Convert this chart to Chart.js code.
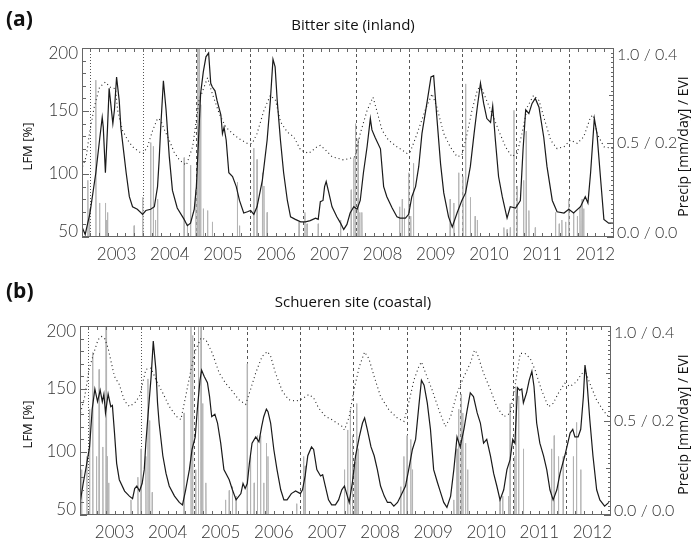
<!DOCTYPE html>
<html><head><meta charset="utf-8">
<script src="https://cdn.jsdelivr.net/npm/chart.js@4.4.0/dist/chart.umd.min.js"></script>
<style>
html,body{margin:0;padding:0;background:#fff;}
#wrap{position:relative;width:691px;height:541px;}
canvas{position:absolute;left:0;}
</style></head><body>
<div id="wrap">
<canvas id="ca" width="691" height="270" style="top:0"></canvas>
<canvas id="cb" width="691" height="271" style="top:270px"></canvas>
</div>
<script>
// ---------- data (decimal year, value) ----------
const xMin = 2002.85, xMax = 2012.85;
const yearMarks = [2003,2004,2005,2006,2007,2008,2009,2010,2011,2012];
const yearLabels = ['2003','2004','2005','2006','2007','2008','2009','2010','2011','2012'];
const lfmTicks = [50,100,150,200];
const rightTicks = [0,0.5,1.0];
const rightLabels = ['0.0 / 0.0','0.5 / 0.2','1.0 / 0.4'];

const lfmA = [[2002.85,58],[2002.91,52],[2003.00,69],[2003.11,101],[2003.18,127],[2003.23,145],[2003.25,137],[2003.29,101],[2003.33,137],[2003.36,168],[2003.43,140],[2003.46,151],[2003.50,177],[2003.55,158],[2003.58,137],[2003.63,119],[2003.68,101],[2003.74,82],[2003.80,74],[2003.89,72],[2003.99,68],[2004.05,71],[2004.14,72],[2004.21,74],[2004.27,90],[2004.30,111],[2004.33,137],[2004.38,174],[2004.43,151],[2004.49,114],[2004.55,87],[2004.64,73],[2004.77,64],[2004.83,59],[2004.89,61],[2004.96,72],[2005.00,90],[2005.04,127],[2005.08,164],[2005.13,181],[2005.18,193],[2005.23,196],[2005.27,172],[2005.30,169],[2005.35,166],[2005.39,158],[2005.46,147],[2005.49,132],[2005.52,137],[2005.56,127],[2005.61,101],[2005.68,98],[2005.75,90],[2005.81,79],[2005.89,69],[2005.96,70],[2006.02,71],[2006.08,68],[2006.14,74],[2006.24,95],[2006.33,127],[2006.39,158],[2006.44,191],[2006.48,185],[2006.52,158],[2006.58,127],[2006.64,101],[2006.71,79],[2006.77,66],[2006.86,64],[2006.96,62],[2007.05,62],[2007.14,63],[2007.24,65],[2007.29,64],[2007.33,78],[2007.38,79],[2007.41,90],[2007.44,94],[2007.49,85],[2007.55,74],[2007.64,66],[2007.71,61],[2007.77,56],[2007.83,60],[2007.89,69],[2007.96,74],[2008.02,72],[2008.08,79],[2008.14,101],[2008.21,122],[2008.27,144],[2008.30,135],[2008.36,129],[2008.46,120],[2008.52,90],[2008.58,82],[2008.68,73],[2008.77,66],[2008.83,65],[2008.93,65],[2008.99,68],[2009.05,82],[2009.12,90],[2009.18,106],[2009.24,132],[2009.34,158],[2009.41,177],[2009.46,178],[2009.52,145],[2009.59,108],[2009.65,85],[2009.74,66],[2009.81,58],[2009.90,69],[2009.99,79],[2010.06,85],[2010.15,106],[2010.22,132],[2010.28,153],[2010.34,172],[2010.40,156],[2010.46,144],[2010.53,141],[2010.57,154],[2010.62,127],[2010.68,98],[2010.75,82],[2010.84,65],[2010.90,74],[2011.00,73],[2011.09,79],[2011.14,119],[2011.19,151],[2011.25,148],[2011.31,156],[2011.37,160],[2011.44,153],[2011.53,129],[2011.59,106],[2011.69,79],[2011.78,70],[2011.91,69],[2012.00,72],[2012.09,69],[2012.22,74],[2012.31,82],[2012.36,77],[2012.41,101],[2012.48,144],[2012.53,132],[2012.60,95],[2012.66,64],[2012.75,61],[2012.83,61]];

const eviA = [[2002.86,.149],[2002.93,.170],[2002.99,.219],[2003.08,.275],[2003.18,.317],[2003.29,.328],[2003.39,.316],[2003.48,.314],[2003.52,.268],[2003.61,.226],[2003.71,.205],[2003.80,.191],[2003.93,.180],[2004.00,.177],[2004.08,.191],[2004.18,.226],[2004.27,.251],[2004.33,.247],[2004.39,.229],[2004.49,.205],[2004.58,.180],[2004.68,.163],[2004.81,.152],[2004.93,.191],[2005.05,.289],[2005.21,.337],[2005.30,.303],[2005.43,.261],[2005.55,.233],[2005.68,.219],[2005.80,.208],[2005.96,.198],[2006.05,.198],[2006.14,.219],[2006.27,.268],[2006.39,.300],[2006.49,.289],[2006.58,.244],[2006.71,.222],[2006.83,.212],[2006.96,.184],[2007.11,.177],[2007.27,.191],[2007.33,.194],[2007.43,.184],[2007.55,.170],[2007.77,.163],[2007.99,.170],[2008.08,.219],[2008.21,.268],[2008.32,.296],[2008.39,.268],[2008.49,.226],[2008.61,.205],[2008.77,.191],[2008.96,.177],[2009.02,.180],[2009.15,.219],[2009.30,.268],[2009.43,.303],[2009.52,.275],[2009.65,.219],[2009.77,.191],[2009.90,.170],[2009.99,.173],[2010.09,.219],[2010.18,.268],[2010.28,.310],[2010.34,.321],[2010.43,.296],[2010.56,.261],[2010.68,.226],[2010.81,.191],[2010.93,.170],[2011.03,.177],[2011.12,.219],[2011.22,.275],[2011.34,.300],[2011.44,.289],[2011.53,.254],[2011.66,.205],[2011.78,.187],[2011.91,.191],[2012.03,.205],[2012.16,.198],[2012.28,.212],[2012.41,.254],[2012.46,.258],[2012.53,.219],[2012.66,.191],[2012.83,.187]];

const precipA = [[2002.96,.30],[2002.99,.15],[2003.11,.83],[2003.18,.18],[2003.29,.18],[2003.31,.09],[2003.33,.13],[2003.83,.06],[2003.99,.21],[2004.14,.50],[2004.19,.48],[2004.23,.09],[2004.27,.20],[2004.77,.42],[2004.83,.07],[2004.89,.38],[2004.99,.25],[2005.02,1.0],[2005.05,1.0],[2005.08,.70],[2005.13,.15],[2005.21,.14],[2005.30,.08],[2005.77,.29],[2005.81,.06],[2006.08,.47],[2006.14,.41],[2006.24,.34],[2006.27,.27],[2006.33,.13],[2006.93,.08],[2007.04,.13],[2007.08,.07],[2007.29,.07],[2007.71,.09],[2007.91,.25],[2007.96,.42],[2007.99,.60],[2008.04,.52],[2008.07,.13],[2008.11,.13],[2008.82,.16],[2008.87,.20],[2008.91,.15],[2008.99,.34],[2009.03,.11],[2009.08,.39],[2009.77,.20],[2009.84,.18],[2009.93,.34],[2010.01,.32],[2010.06,.81],[2010.15,.21],[2010.24,.11],[2010.28,.09],[2010.78,.05],[2010.84,.04],[2010.90,.05],[2010.97,.67],[2011.03,.27],[2011.15,.30],[2011.20,.56],[2011.25,.14],[2011.37,.05],[2011.75,.13],[2011.82,.07],[2011.87,.09],[2011.94,.08],[2012.00,.20],[2012.09,.13],[2012.16,.11],[2012.21,.16],[2012.25,.20],[2012.28,.15]];

const lfmB = [[2002.86,62],[2002.91,75],[2002.97,89],[2003.03,104],[2003.08,134],[2003.13,150],[2003.18,140],[2003.23,149],[2003.27,140],[2003.30,146],[2003.33,131],[2003.38,146],[2003.43,136],[2003.46,137],[2003.50,115],[2003.54,91],[2003.59,78],[2003.69,69],[2003.78,65],[2003.84,63],[2003.88,71],[2003.92,73],[2003.97,69],[2004.02,75],[2004.06,86],[2004.09,107],[2004.14,134],[2004.19,160],[2004.23,188],[2004.28,165],[2004.31,139],[2004.34,123],[2004.41,97],[2004.47,83],[2004.53,73],[2004.63,65],[2004.72,60],[2004.78,58],[2004.84,70],[2004.91,86],[2004.96,102],[2005.02,112],[2005.06,134],[2005.11,157],[2005.14,165],[2005.19,160],[2005.25,155],[2005.29,144],[2005.33,128],[2005.39,130],[2005.44,123],[2005.50,107],[2005.56,86],[2005.66,78],[2005.72,70],[2005.79,62],[2005.88,67],[2005.92,75],[2005.96,71],[2006.00,75],[2006.04,91],[2006.09,107],[2006.16,112],[2006.22,108],[2006.27,120],[2006.31,128],[2006.36,134],[2006.39,132],[2006.44,123],[2006.50,102],[2006.56,86],[2006.63,70],[2006.69,62],[2006.75,62],[2006.83,67],[2006.91,69],[2007.00,67],[2007.04,70],[2007.09,81],[2007.14,97],[2007.21,104],[2007.25,102],[2007.31,86],[2007.38,81],[2007.42,82],[2007.47,73],[2007.53,62],[2007.59,58],[2007.66,58],[2007.72,62],[2007.78,70],[2007.83,73],[2007.92,60],[2007.98,76],[2008.04,97],[2008.11,112],[2008.17,123],[2008.21,127],[2008.26,118],[2008.33,104],[2008.39,97],[2008.45,86],[2008.51,73],[2008.58,65],[2008.64,60],[2008.70,60],[2008.76,57],[2008.83,60],[2008.89,65],[2008.98,73],[2009.04,86],[2009.11,102],[2009.17,110],[2009.23,136],[2009.28,157],[2009.33,153],[2009.39,139],[2009.45,118],[2009.51,86],[2009.58,76],[2009.64,68],[2009.70,60],[2009.76,56],[2009.83,65],[2009.89,86],[2009.95,112],[2010.01,104],[2010.08,118],[2010.14,133],[2010.20,147],[2010.26,144],[2010.33,131],[2010.39,123],[2010.45,107],[2010.51,110],[2010.58,97],[2010.64,83],[2010.70,73],[2010.76,62],[2010.83,70],[2010.89,86],[2010.95,94],[2011.00,110],[2011.04,107],[2011.09,151],[2011.13,149],[2011.17,150],[2011.20,139],[2011.26,147],[2011.31,157],[2011.36,164],[2011.40,152],[2011.45,123],[2011.51,107],[2011.58,97],[2011.64,86],[2011.70,70],[2011.76,62],[2011.83,70],[2011.89,83],[2011.98,97],[2012.08,115],[2012.13,118],[2012.17,112],[2012.23,112],[2012.28,118],[2012.33,144],[2012.36,169],[2012.39,160],[2012.45,126],[2012.51,97],[2012.58,70],[2012.64,62],[2012.73,57],[2012.81,60]];

const eviB = [[2002.86,.216],[2002.94,.251],[2003.02,.308],[2003.11,.343],[2003.19,.371],[2003.25,.378],[2003.31,.375],[2003.38,.353],[2003.44,.322],[2003.50,.293],[2003.59,.276],[2003.69,.241],[2003.78,.230],[2003.88,.237],[2003.97,.251],[2004.03,.279],[2004.09,.308],[2004.19,.311],[2004.28,.286],[2004.41,.258],[2004.53,.230],[2004.66,.209],[2004.75,.202],[2004.84,.251],[2004.94,.308],[2005.03,.350],[2005.13,.375],[2005.22,.371],[2005.34,.343],[2005.47,.301],[2005.59,.279],[2005.72,.262],[2005.84,.244],[2005.97,.234],[2006.06,.265],[2006.16,.301],[2006.28,.336],[2006.38,.346],[2006.44,.336],[2006.53,.301],[2006.66,.262],[2006.78,.244],[2006.91,.241],[2007.00,.244],[2007.06,.248],[2007.16,.255],[2007.25,.248],[2007.34,.227],[2007.47,.209],[2007.59,.202],[2007.78,.188],[2007.83,.180],[2007.92,.208],[2008.01,.265],[2008.11,.314],[2008.21,.345],[2008.29,.331],[2008.39,.293],[2008.51,.251],[2008.67,.222],[2008.83,.205],[2008.95,.198],[2009.04,.237],[2009.14,.286],[2009.23,.314],[2009.28,.324],[2009.36,.300],[2009.48,.265],[2009.61,.222],[2009.73,.187],[2009.83,.208],[2009.95,.258],[2010.08,.293],[2010.20,.321],[2010.28,.349],[2010.33,.342],[2010.45,.300],[2010.58,.265],[2010.70,.229],[2010.83,.208],[2010.95,.215],[2011.04,.272],[2011.14,.342],[2011.23,.342],[2011.33,.331],[2011.42,.307],[2011.54,.265],[2011.67,.229],[2011.76,.236],[2011.86,.258],[2011.98,.279],[2012.08,.272],[2012.20,.282],[2012.28,.296],[2012.36,.307],[2012.45,.279],[2012.58,.243],[2012.70,.222],[2012.82,.205]];

const precipB = [[2002.88,.24],[2002.98,.31],[2003.03,.56],[2003.09,.86],[2003.16,.31],[2003.21,.77],[2003.28,.36],[2003.34,1.0],[2003.36,.31],[2003.39,.17],[2003.81,.08],[2003.94,.20],[2004.00,.35],[2004.09,.31],[2004.13,.72],[2004.16,.50],[2004.21,.12],[2004.81,.54],[2004.94,1.0],[2004.97,.95],[2005.03,.24],[2005.08,1.0],[2005.13,1.0],[2005.16,.59],[2005.22,.17],[2005.59,.08],[2005.66,.13],[2005.72,.15],[2005.79,.10],[2006.00,.80],[2006.06,.31],[2006.13,.17],[2006.19,.42],[2006.25,.42],[2006.31,.17],[2006.36,.38],[2006.39,.31],[2006.93,.06],[2007.06,.31],[2007.09,.26],[2007.83,.24],[2007.89,.45],[2007.94,.56],[2007.98,.42],[2008.03,.28],[2008.06,.59],[2008.09,.35],[2008.89,.15],[2008.95,.31],[2009.01,.42],[2009.08,.40],[2009.11,.24],[2009.89,.08],[2009.95,.35],[2009.98,.56],[2010.03,.64],[2010.06,.54],[2010.11,.38],[2010.15,.24],[2010.76,.08],[2010.81,.10],[2010.92,.10],[2010.95,.59],[2011.03,.31],[2011.06,.68],[2011.11,.63],[2011.20,.35],[2011.73,.35],[2011.78,.42],[2011.86,.31],[2011.95,.31],[2012.14,.31],[2012.20,.49],[2012.28,.24]];

// ---------- helpers ----------
const toXY = arr => arr.map(p => ({x: p[0], y: p[1]}));
function spikes(arr) {
  const out = [];
  arr.forEach(p => {
    out.push({x: p[0] - 0.005, y: 0});
    out.push({x: p[0], y: p[1]});
    out.push({x: p[0] + 0.005, y: 0});
  });
  return out;
}
const TICK_FONT = "300 17px Lato, 'DejaVu Sans', sans-serif";
const TXT = '#333';

function deco(o) {
  return {
    id: 'deco',
    beforeDatasetsDraw(chart) {
      const {ctx, chartArea: a} = chart;
      const x = chart.scales.x;
      ctx.save();
      ctx.strokeStyle = '#555'; ctx.lineWidth = 1;
      yearMarks.forEach((t, i) => {
        const px = Math.round(x.getPixelForValue(t)) + 0.5;
        ctx.setLineDash(i < 2 ? [1, 2] : [3, 3]);
        ctx.beginPath(); ctx.moveTo(px, a.top); ctx.lineTo(px, a.bottom); ctx.stroke();
      });
      ctx.restore();
    },
    afterDatasetsDraw(chart) {
      const {ctx, chartArea: a} = chart;
      const x = chart.scales.x, y = chart.scales.y, yp = chart.scales.yp, ye = chart.scales.ye;
      ctx.save();
      ctx.setLineDash([]);
      ctx.strokeStyle = '#666'; ctx.lineWidth = 1;
      ctx.strokeRect(a.left + 0.5, a.top + 0.5, a.right - a.left - 1, a.bottom - a.top - 1);
      ctx.beginPath();
      for (let v = 50; v <= 200; v += 10) {
        const py = Math.round(y.getPixelForValue(v)) + 0.5;
        const len = v % 50 === 0 ? 7 : 4;
        ctx.moveTo(a.left, py); ctx.lineTo(a.left + len, py);
      }
      for (let k = 0; k <= 40; k++) {
        const py = Math.round(ye.getPixelForValue(k / 100)) + 0.5;
        const len = k % 20 === 0 ? 7 : (k % 10 === 0 ? 5 : 3);
        ctx.moveTo(a.right - len, py); ctx.lineTo(a.right, py);
      }
      for (let k = Math.ceil(xMin * 6); k <= Math.floor(xMax * 6); k++) {
        const px = Math.round(x.getPixelForValue(k / 6)) + 0.5;
        ctx.moveTo(px, a.top); ctx.lineTo(px, a.top + 4);
        ctx.moveTo(px, a.bottom); ctx.lineTo(px, a.bottom - 4);
      }
      ctx.stroke();

      ctx.fillStyle = TXT;
      ctx.font = TICK_FONT;
      ctx.textBaseline = 'middle';
      ctx.textAlign = 'right';
      lfmTicks.forEach(v => {
        let py = y.getPixelForValue(v);
        if (v === 200) py += 6;
        if (v === 50) py -= 5;
        ctx.fillText(String(v), a.left - 4, py);
      });
      ctx.textAlign = 'left';
      ctx.font = "300 16px Lato, 'DejaVu Sans', sans-serif";
      rightTicks.forEach((v, i) => {
        let py = yp.getPixelForValue(v);
        if (v === 1.0) py += 7;
        if (v === 0) py -= 4;
        ctx.fillText(rightLabels[i], a.right + 3, py);
      });
      ctx.font = TICK_FONT;
      ctx.textAlign = 'center';
      yearMarks.forEach((t, i) => {
        ctx.fillText(yearLabels[i], x.getPixelForValue(t + 0.5), a.bottom + 18);
      });
      const cy = (a.top + a.bottom) / 2 + 4;
      ctx.fillStyle = '#111';
      ctx.font = "13px 'Open Sans', 'Noto Sans', sans-serif";
      ctx.save(); ctx.translate(28, cy); ctx.rotate(-Math.PI / 2);
      ctx.fillText('LFM [%]', 0, 0); ctx.restore();
      ctx.font = "14px 'Open Sans', 'Noto Sans', sans-serif";
      ctx.save(); ctx.translate(684, cy); ctx.rotate(-Math.PI / 2);
      ctx.fillText('Precip [mm/day] / EVI', 0, 0); ctx.restore();
      ctx.font = "15px 'Open Sans', 'Noto Sans', sans-serif";
      ctx.fillText(o.title, 353, o.titleY);
      ctx.textAlign = 'left';
      ctx.font = "bold 21px 'Open Sans', 'Noto Sans', sans-serif";
      ctx.fillText(o.letter, 6, o.letterY);
      ctx.restore();
    }
  };
}

function makeChart(id, lfm, evi, precip, pad, o) {
  return new Chart(document.getElementById(id), {
    type: 'line',
    data: {
      datasets: [
        {label: 'LFM', data: toXY(lfm), yAxisID: 'y', borderColor: '#1a1a1a', borderWidth: 1.2, pointRadius: 0, tension: 0, order: 1},
        {label: 'EVI', data: toXY(evi), yAxisID: 'ye', borderColor: '#222', borderWidth: 1.1, borderDash: [1, 3], pointRadius: 0, tension: 0, order: 2},
        {label: 'Precip', data: spikes(precip), yAxisID: 'yp', borderColor: '#b4b4b4', borderWidth: 1, pointRadius: 0, tension: 0, order: 3}
      ]
    },
    options: {
      responsive: false, animation: false, devicePixelRatio: 1, events: [],
      layout: {padding: pad},
      plugins: {legend: {display: false}, tooltip: {enabled: false}},
      scales: {
        x: {type: 'linear', min: xMin, max: xMax, display: false},
        y: {type: 'linear', min: 50, max: 200, display: false},
        yp: {type: 'linear', min: 0, max: 1, display: false},
        ye: {type: 'linear', min: 0, max: 0.4, display: false}
      }
    },
    plugins: [deco(o)]
  });
}

makeChart('ca', lfmA, eviA, precipA, {left: 82, right: 77, top: 48, bottom: 33},
  {title: 'Bitter site (inland)', titleY: 26, letter: '(a)', letterY: 20});
makeChart('cb', lfmB, eviB, precipB, {left: 80, right: 80, top: 56, bottom: 26},
  {title: 'Schueren site (coastal)', titleY: 33, letter: '(b)', letterY: 22});
</script>
</body></html>
